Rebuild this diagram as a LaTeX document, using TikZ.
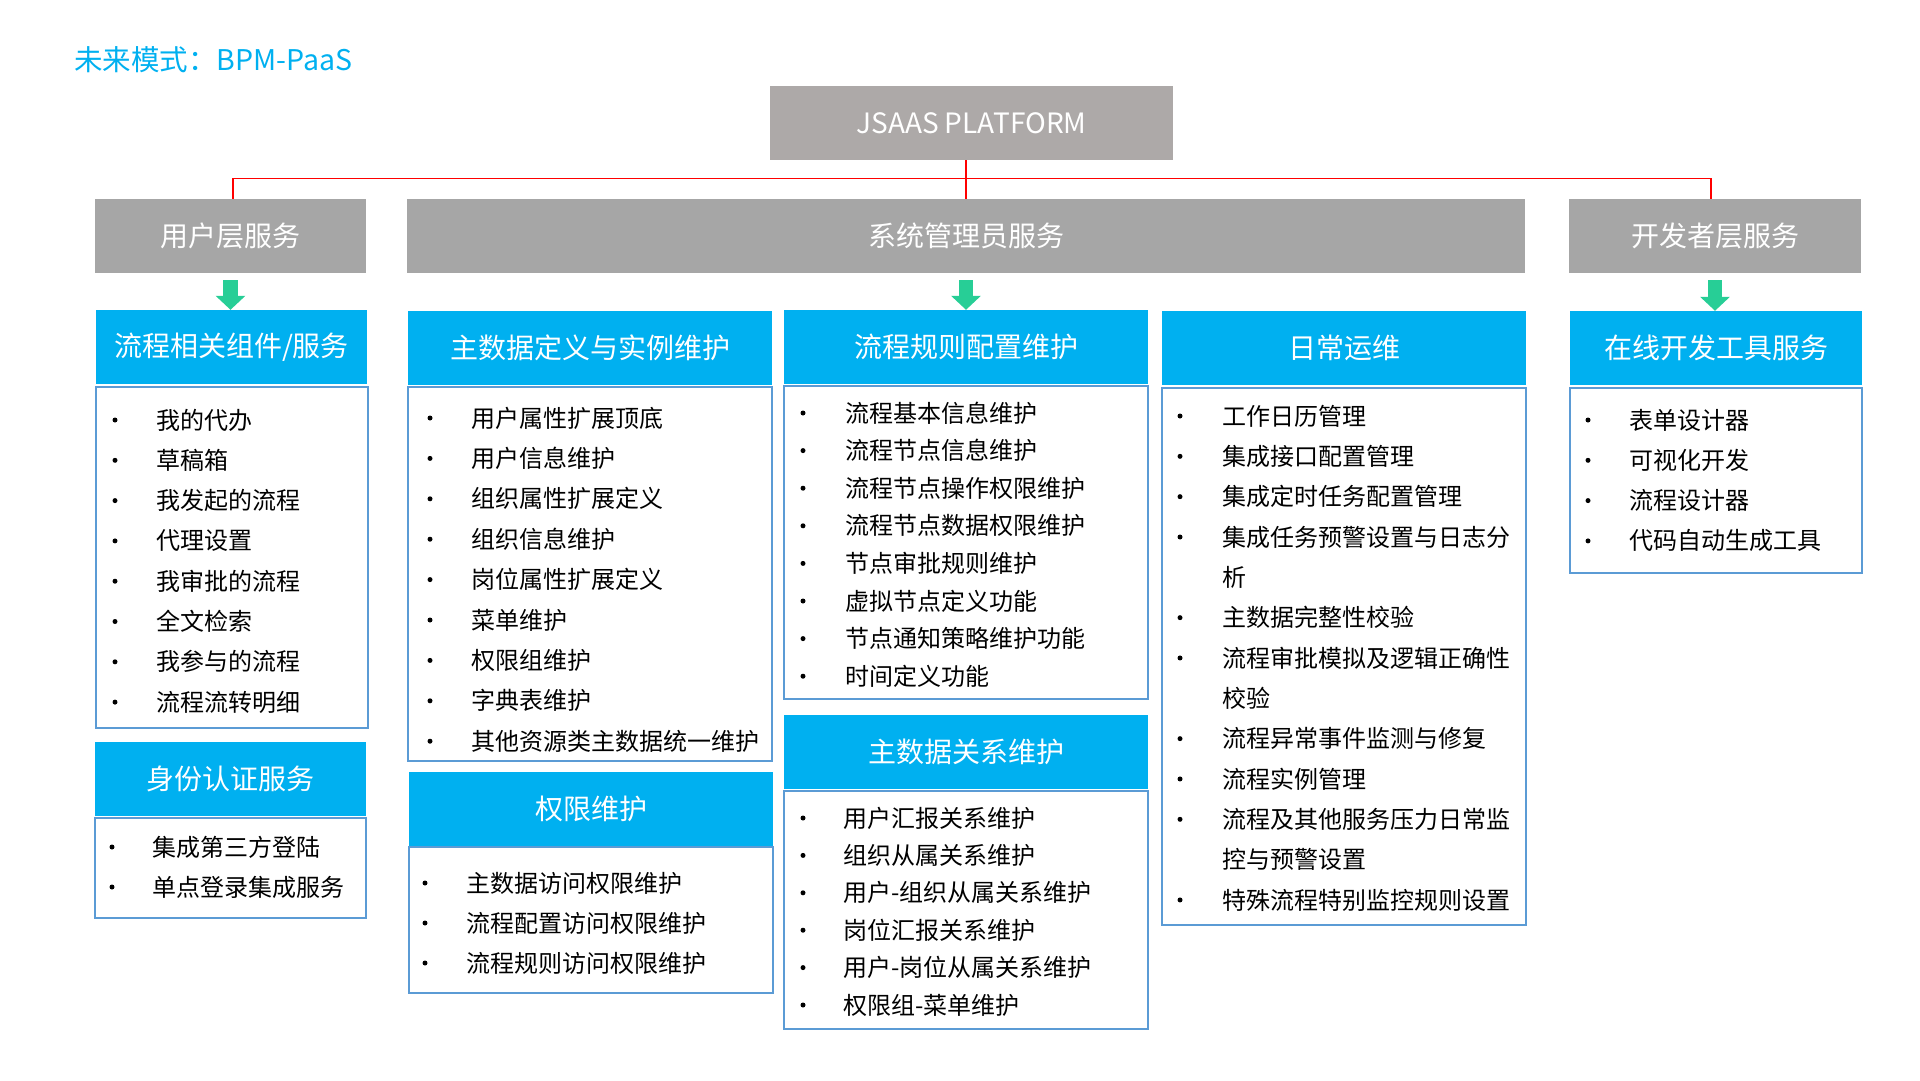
\documentclass[tikz,border=0pt]{standalone}
\usepackage{fontspec}
\setmainfont{Noto Sans CJK SC}
\usepackage{tikz}
\usetikzlibrary{arrows.meta}
\definecolor{jgray}{HTML}{ADA9A8}
\definecolor{sgray}{HTML}{A6A6A6}
\definecolor{hblue}{HTML}{00B0F0}
\definecolor{lblue}{HTML}{5B9BD5}
\definecolor{agreen}{HTML}{27CE96}
\newcommand{\px}[1]{\fontsize{#1pt}{#1pt}\selectfont}

\begin{document}
\begin{tikzpicture}[x=1pt,y=-1pt]
 \tikzstyle{svcbox}=[fill=sgray,text=white,font=\px{28},inner sep=0pt,minimum height=74pt]
 \tikzstyle{hdbox}=[fill=hblue,text=white,font=\px{28},inner sep=0pt,minimum height=74pt]
 \tikzstyle{lstbox}=[draw=lblue,line width=2.5pt,inner sep=0pt]
 \tikzstyle{itm}=[anchor=west,font=\px{24},inner sep=0pt]
 \tikzstyle{bul}=[circle,fill=black,minimum size=5pt,inner sep=0pt]
 \tikzstyle{redline}=[red,line width=1.3pt]
 \tikzstyle{grarrow}=[agreen,line width=14.5pt,-{Triangle[width=29pt,length=14pt]}]
 \useasboundingbox (0,0) rectangle (1920,1080);

 \node[anchor=west,text=hblue,font=\px{28.5},inner sep=0pt] at (74,60) (title) {未来模式：BPM-PaaS};

 \node[svcbox,fill=jgray,minimum width=403pt] at (971.5,123) (J) {JSAAS PLATFORM};
 \node[svcbox,minimum width=271pt] at (230.5,236) (u) {用户层服务};
 \node[svcbox,minimum width=1118pt] at (966,236) (s) {系统管理员服务};
 \node[svcbox,minimum width=292pt] at (1715,236) (d) {开发者层服务};

 \draw[redline] ([xshift=2.5pt]u.north) -- ++(0,-20) -| ([xshift=-4pt]d.north);
 \draw[redline] (s.north |- J.south) -- (s.north);

 \node[hdbox,minimum width=271pt] at (231.5,347) (h1) {流程相关组件/服务};
 \node[hdbox,minimum width=364pt] at (590,348) (h2) {主数据定义与实例维护};
 \node[hdbox,minimum width=364pt] at (966,347) (h3) {流程规则配置维护};
 \node[hdbox,minimum width=364pt] at (1344,348) (h4) {日常运维};
 \node[hdbox,minimum width=292pt] at (1716,348) (h5) {在线开发工具服务};
 \node[hdbox,minimum width=271pt] at (230.5,779) (h6) {身份认证服务};
 \node[hdbox,minimum width=364pt] at (591,809) (h7) {权限维护};
 \node[hdbox,minimum width=364pt] at (966,752) (h8) {主数据关系维护};

 \draw[grarrow] ([yshift=-7pt]u.south) -- (u.south |- h1.north);
 \draw[grarrow] ([yshift=-7pt]s.south) -- (s.south |- h3.north);
 \draw[grarrow] ([yshift=-7pt]d.south) -- (d.south |- h5.north);

 \node[lstbox,minimum width=272pt,minimum height=341pt] at (232,557.5) (l1) {};
 \node[lstbox,minimum width=364pt,minimum height=374pt] at (590,574) (l2) {};
 \node[lstbox,minimum width=364pt,minimum height=313pt] at (966,542.5) (l3) {};
 \node[lstbox,minimum width=364pt,minimum height=537pt] at (1344,656.5) (l4) {};
 \node[lstbox,minimum width=292pt,minimum height=185pt] at (1716,480.5) (l5) {};
 \node[lstbox,minimum width=271pt,minimum height=100pt] at (230.5,868) (l6) {};
 \node[lstbox,minimum width=364pt,minimum height=146pt] at (591,920) (l7) {};
 \node[lstbox,minimum width=364pt,minimum height=238pt] at (966,910) (l8) {};

 \foreach \t [count=\i] in {我的代办,草稿箱,我发起的流程,代理设置,我审批的流程,全文检索,我参与的流程,流程流转明细}{
  \node[bul] at (115,{420+40.3*(\i-1)}) (b1\i) {};
  \node[itm] at (156,{420+40.3*(\i-1)}) (t1\i) {\t};
 }
 \foreach \t [count=\i] in {用户属性扩展顶底,用户信息维护,组织属性扩展定义,组织信息维护,岗位属性扩展定义,菜单维护,权限组维护,字典表维护,其他资源类主数据统一维护}{
  \node[bul] at (430,{418+40.4*(\i-1)}) (b2\i) {};
  \node[itm] at (471,{418+40.4*(\i-1)}) (t2\i) {\t};
 }
 \foreach \t [count=\i] in {流程基本信息维护,流程节点信息维护,流程节点操作权限维护,流程节点数据权限维护,节点审批规则维护,虚拟节点定义功能,节点通知策略维护功能,时间定义功能}{
  \node[bul] at (803,{413+37.6*(\i-1)}) (b3\i) {};
  \node[itm] at (845,{413+37.6*(\i-1)}) (t3\i) {\t};
 }
 \foreach \t [count=\i] in {工作日历管理,集成接口配置管理,集成定时任务配置管理,集成任务预警设置与日志分,析,主数据完整性校验,流程审批模拟及逻辑正确性,校验,流程异常事件监测与修复,流程实例管理,流程及其他服务压力日常监,控与预警设置,特殊流程特别监控规则设置}
  \node[itm] at (1222,{416+40.33*(\i-1)}) (t4\i) {\t};
 \foreach \i in {1,2,3,4,6,7,9,10,11,13}
  \node[bul] at (1180,{416+40.33*(\i-1)}) (b4\i) {};
 \foreach \t [count=\i] in {表单设计器,可视化开发,流程设计器,代码自动生成工具}{
  \node[bul] at (1588,{420+40.3*(\i-1)}) (b5\i) {};
  \node[itm] at (1629,{420+40.3*(\i-1)}) (t5\i) {\t};
 }
 \foreach \t [count=\i] in {集成第三方登陆,单点登录集成服务}{
  \node[bul] at (112,{847+40*(\i-1)}) (b6\i) {};
  \node[itm] at (152,{847+40*(\i-1)}) (t6\i) {\t};
 }
 \foreach \t [count=\i] in {主数据访问权限维护,流程配置访问权限维护,流程规则访问权限维护}{
  \node[bul] at (425,{883+40*(\i-1)}) (b7\i) {};
  \node[itm] at (466,{883+40*(\i-1)}) (t7\i) {\t};
 }
 \foreach \t [count=\i] in {用户汇报关系维护,组织从属关系维护,用户-组织从属关系维护,岗位汇报关系维护,用户-岗位从属关系维护,权限组-菜单维护}{
  \node[bul] at (803,{818+37.4*(\i-1)}) (b8\i) {};
  \node[itm] at (843,{818+37.4*(\i-1)}) (t8\i) {\t};
 }
\end{tikzpicture}
\end{document}
